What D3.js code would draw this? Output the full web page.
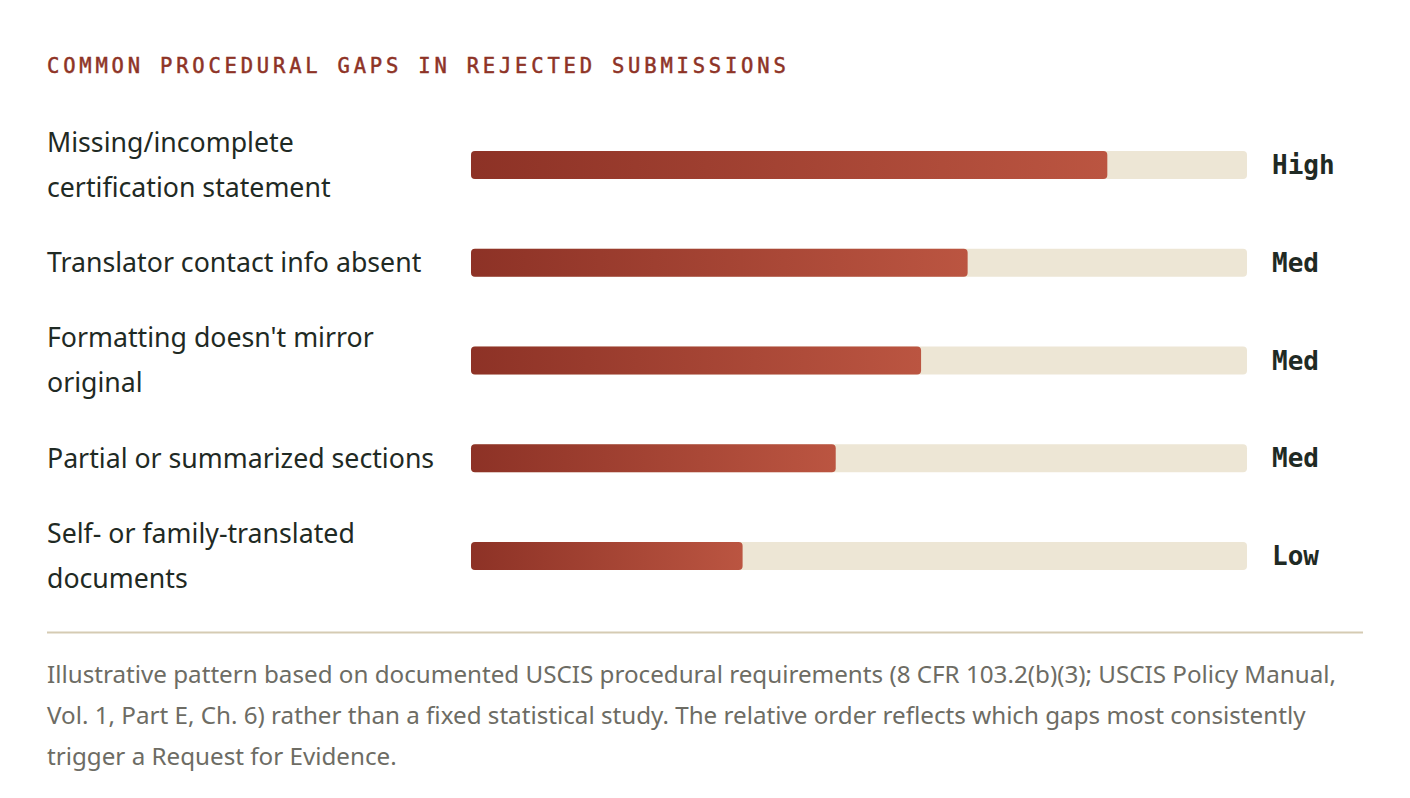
<!DOCTYPE html>
<html>
<head>
<meta charset="utf-8">
<script src="https://cdn.jsdelivr.net/npm/d3@7"></script>
<style>
  html, body { margin: 0; padding: 0; background: #fff; }
  svg { display: block; }
</style>
</head>
<body>
<svg id="chart" width="1410" height="798"></svg>
<script>
// values (share of full track, %)
const categories = [
    "Missing/incomplete\ncertification statement",
    "Translator contact info absent",
    "Formatting doesn't mirror\noriginal",
    "Partial or summarized sections",
    "Self- or family-translated\ndocuments"
]
const values = [82, 64, 58, 47, 35]
const levels = ["High", "Med", "Med", "Med", "Low"]

const title = "COMMON PROCEDURAL GAPS IN REJECTED SUBMISSIONS"
const noteLines = [
    "Illustrative pattern based on documented USCIS procedural requirements (8 CFR 103.2(b)(3); USCIS Policy Manual,",
    "Vol. 1, Part E, Ch. 6) rather than a fixed statistical study. The relative order reflects which gaps most consistently",
    "trigger a Request for Evidence."
]

const svg = d3.select("#chart")
const sans = "'Noto Sans', 'Open Sans', sans-serif"
const mono = "'DejaVu Sans Mono', 'Liberation Mono', monospace"

svg.append("text")
    .attr("x", 47)
    .attr("y", 73)
    .attr("fill", "#8e3326")
    .attr("stroke", "#8e3326")
    .attr("stroke-width", 0.5)
    .style("font-family", mono)
    .style("font-size", "20.5px")
    .style("letter-spacing", "3.8px")
    .text(title)

const x = d3.scaleLinear().domain([0, 100]).range([471, 1247])
const y = d3.scaleBand()
    .domain(d3.range(categories.length))
    .range([116, 605])

const barH = 28

const defs = svg.append("defs")
values.forEach((v, i) => {
    const g = defs.append("linearGradient")
        .attr("id", "grad" + i)
        .attr("x1", "0%").attr("x2", "100%")
    g.append("stop").attr("offset", "0%").attr("stop-color", "#8d3226")
    g.append("stop").attr("offset", "100%").attr("stop-color", "#bb5541")
})

const rows = svg.selectAll("g.row")
    .data(categories)
    .join("g")
    .attr("class", "row")
    .attr("transform", (d, i) => `translate(0,${y(i) + y.bandwidth() / 2})`)

rows.append("rect")
    .attr("x", x(0))
    .attr("y", -barH / 2)
    .attr("width", x(100) - x(0))
    .attr("height", barH)
    .attr("rx", 4)
    .attr("fill", "#ede6d5")

rows.append("rect")
    .attr("x", x(0))
    .attr("y", -barH / 2)
    .attr("width", (d, i) => x(values[i]) - x(0))
    .attr("height", barH)
    .attr("rx", 4)
    .attr("fill", (d, i) => `url(#grad${i})`)

rows.append("text")
    .attr("x", 1272)
    .attr("y", 0)
    .attr("dy", "0.35em")
    .attr("fill", "#1f2a24")
    .style("font-family", mono)
    .style("font-weight", "bold")
    .style("font-size", "26px")
    .text((d, i) => levels[i])

const labels = rows.append("text")
    .attr("fill", "#1f2a24")
    .style("font-family", sans)
    .style("font-size", "26.7px")

labels.selectAll("tspan")
    .data(d => {
        const lines = d.split("\n")
        return lines.map((t, k) => ({ t, k, n: lines.length }))
    })
    .join("tspan")
    .attr("x", 47)
    .attr("y", d => (d.k - (d.n - 1) / 2) * 45)
    .attr("dy", "0.35em")
    .text(d => d.t)

svg.append("line")
    .attr("x1", 47).attr("x2", 1363)
    .attr("y1", 632.5).attr("y2", 632.5)
    .attr("stroke", "#d5cbb3")
    .attr("stroke-width", 2)

svg.append("g")
    .selectAll("text")
    .data(noteLines)
    .join("text")
    .attr("x", 47)
    .attr("y", (d, i) => 683 + i * 41)
    .attr("fill", "#6d6c64")
    .style("font-family", sans)
    .style("font-size", "24.2px")
    .text(d => d)
</script>
</body>
</html>
